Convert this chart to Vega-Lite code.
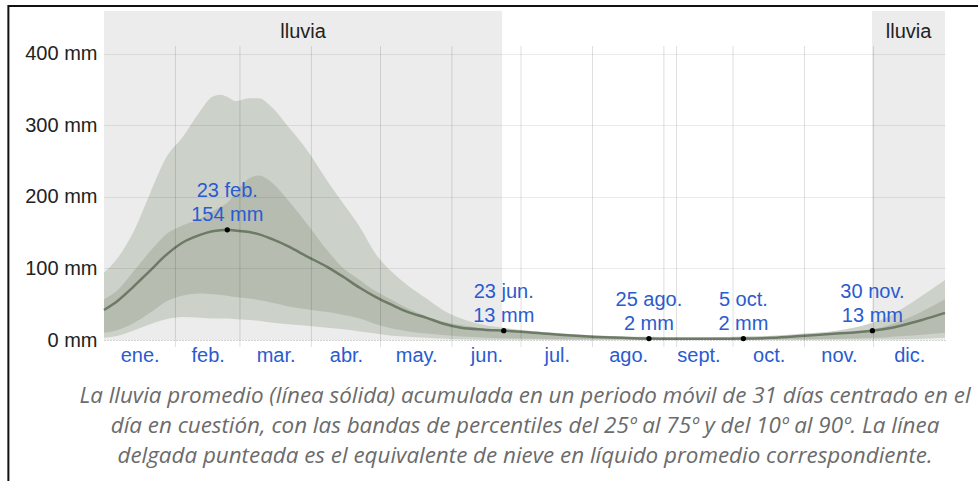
{
  "$schema": "https://vega.github.io/schema/vega-lite/v6.json",
  "width": 841,
  "height": 329,
  "autosize": "none",
  "padding": {"left": 104, "top": 11, "right": 33, "bottom": 141},
  "background": "white",
  "datasets": {
    "rain": [
      {"d": 0, "p10": 3, "p25": 10, "mean": 42, "p75": 57, "p90": 94},
      {"d": 6, "p10": 6, "p25": 14, "mean": 55, "p75": 70, "p90": 115},
      {"d": 12.6, "p10": 13, "p25": 23, "mean": 74, "p75": 95, "p90": 150},
      {"d": 20, "p10": 22, "p25": 38, "mean": 97, "p75": 124, "p90": 205},
      {"d": 27, "p10": 29, "p25": 54, "mean": 119, "p75": 148, "p90": 255},
      {"d": 34, "p10": 32, "p25": 62, "mean": 136, "p75": 160, "p90": 283},
      {"d": 41.7, "p10": 31, "p25": 65, "mean": 147, "p75": 170, "p90": 320},
      {"d": 47, "p10": 30, "p25": 64, "mean": 152, "p75": 180, "p90": 340},
      {"d": 50.5, "p10": 30, "p25": 63, "mean": 153.5, "p75": 186, "p90": 343},
      {"d": 53.5, "p10": 30, "p25": 62, "mean": 154, "p75": 192, "p90": 340},
      {"d": 57, "p10": 29, "p25": 60, "mean": 153, "p75": 205, "p90": 334},
      {"d": 63, "p10": 28, "p25": 58, "mean": 151, "p75": 226, "p90": 338},
      {"d": 67, "p10": 27, "p25": 56, "mean": 148, "p75": 230, "p90": 338},
      {"d": 73, "p10": 24, "p25": 52, "mean": 141, "p75": 220, "p90": 325},
      {"d": 80, "p10": 22, "p25": 47, "mean": 131, "p75": 195, "p90": 298},
      {"d": 88, "p10": 20, "p25": 43, "mean": 117, "p75": 163, "p90": 266},
      {"d": 97, "p10": 17, "p25": 39, "mean": 102, "p75": 125, "p90": 222},
      {"d": 104, "p10": 15, "p25": 35, "mean": 88, "p75": 100, "p90": 190},
      {"d": 111, "p10": 12, "p25": 30, "mean": 73, "p75": 84, "p90": 158},
      {"d": 118, "p10": 9, "p25": 22, "mean": 60, "p75": 68, "p90": 120},
      {"d": 125, "p10": 6, "p25": 16, "mean": 49, "p75": 56, "p90": 95},
      {"d": 132, "p10": 4.5, "p25": 12, "mean": 39, "p75": 44, "p90": 76},
      {"d": 140, "p10": 3, "p25": 9, "mean": 31, "p75": 33, "p90": 58},
      {"d": 147, "p10": 2, "p25": 7, "mean": 23, "p75": 26, "p90": 42},
      {"d": 155, "p10": 1, "p25": 5, "mean": 17, "p75": 21, "p90": 30},
      {"d": 165, "p10": 0.5, "p25": 3.5, "mean": 14.5, "p75": 16, "p90": 21},
      {"d": 173.5, "p10": 0.3, "p25": 2.5, "mean": 13, "p75": 14, "p90": 17},
      {"d": 181, "p10": 0.2, "p25": 2, "mean": 11.5, "p75": 11, "p90": 14},
      {"d": 195, "p10": 0, "p25": 1.5, "mean": 8, "p75": 7, "p90": 10},
      {"d": 210, "p10": 0, "p25": 1, "mean": 5, "p75": 4.5, "p90": 7},
      {"d": 225, "p10": 0, "p25": 0.7, "mean": 3, "p75": 3, "p90": 5},
      {"d": 236.5, "p10": 0, "p25": 0.5, "mean": 2, "p75": 2.5, "p90": 4.5},
      {"d": 250, "p10": 0, "p25": 0.5, "mean": 1.8, "p75": 2.2, "p90": 4},
      {"d": 262, "p10": 0, "p25": 0.5, "mean": 1.8, "p75": 2.2, "p90": 4},
      {"d": 277.5, "p10": 0, "p25": 0.5, "mean": 2, "p75": 2.8, "p90": 5},
      {"d": 290, "p10": 0, "p25": 0.7, "mean": 3, "p75": 4, "p90": 6},
      {"d": 304, "p10": 0, "p25": 1, "mean": 6, "p75": 6.5, "p90": 9},
      {"d": 318, "p10": 0.2, "p25": 1.5, "mean": 9, "p75": 9.5, "p90": 13},
      {"d": 333.5, "p10": 0.5, "p25": 3, "mean": 13, "p75": 15, "p90": 24},
      {"d": 340, "p10": 0.8, "p25": 4, "mean": 16, "p75": 20, "p90": 32},
      {"d": 347, "p10": 1.2, "p25": 5.5, "mean": 21, "p75": 28, "p90": 45},
      {"d": 355, "p10": 1.8, "p25": 7.5, "mean": 28, "p75": 40, "p90": 62},
      {"d": 365, "p10": 3, "p25": 10, "mean": 38, "p75": 57, "p90": 84}
    ],
    "seasons": [
      {"start": 0, "end": 172.8, "mid": 86.4, "name": "lluvia"},
      {"start": 333.3, "end": 365, "mid": 349.2, "name": "lluvia"}
    ],
    "grid": [
      {"d": 31}, {"d": 59}, {"d": 90}, {"d": 120}, {"d": 151}, {"d": 181},
      {"d": 212}, {"d": 243}, {"d": 248.5}, {"d": 273}, {"d": 304}, {"d": 334}
    ],
    "notes": [
      {"d": 53.5, "v": 154, "label": "23 feb.\n154 mm"},
      {"d": 173.5, "v": 13, "label": "23 jun.\n13 mm"},
      {"d": 236.5, "v": 2, "label": "25 ago.\n2 mm"},
      {"d": 277.5, "v": 2, "label": "5 oct.\n2 mm"},
      {"d": 333.5, "v": 13, "label": "30 nov.\n13 mm"}
    ],
    "frame": [
      {"x0": -41.5, "x1": 430, "y0": 467, "y1": -300}
    ]
  },
  "layer": [
    {
      "data": {"name": "seasons"},
      "mark": {"type": "rect", "fill": "#ececec"},
      "encoding": {
        "x": {
          "field": "start", "type": "quantitative",
          "scale": {"domain": [0, 365], "nice": false, "zero": false},
          "axis": {
            "title": [
              "La lluvia promedio (línea sólida) acumulada en un periodo móvil de 31 días centrado en el",
              "día en cuestión, con las bandas de percentiles del 25º al 75º y del 10º al 90º. La línea",
              "delgada punteada es el equivalente de nieve en líquido promedio correspondiente."
            ],
            "titleFont": "Open Sans",
            "titleFontStyle": "italic",
            "titleFontWeight": "normal",
            "titleFontSize": 22.4,
            "titleLineHeight": 30,
            "titleColor": "#6b6b6b",
            "titlePadding": 19,
            "titleAnchor": "middle",
            "values": [15.5, 45, 74.5, 105, 135.5, 166, 196.5, 227.5, 258, 288.5, 319, 349.5],
            "labelExpr": "['ene.','feb.','mar.','abr.','may.','jun.','jul.','ago.','sept.','oct.','nov.','dic.'][indexof([15.5,45,74.5,105,135.5,166,196.5,227.5,258,288.5,319,349.5], datum.value)]",
            "labelFont": "Liberation Sans",
            "labelFontSize": 20,
            "labelColor": "#2a5bd0",
            "labelPadding": 5,
            "labelFlush": false,
            "labelOverlap": false,
            "ticks": false,
            "domain": false,
            "grid": false
          }
        },
        "x2": {"field": "end"},
        "y": {
          "datum": 0, "type": "quantitative",
          "scale": {"domain": [0, 460], "nice": false, "zero": true},
          "axis": {
            "title": null,
            "values": [0, 100, 200, 300, 400],
            "labelExpr": "datum.value + ' mm'",
            "labelFont": "Liberation Sans",
            "labelFontSize": 20,
            "labelColor": "#222222",
            "labelPadding": 7,
            "ticks": false,
            "domain": false,
            "grid": true,
            "gridColor": "#000000",
            "gridOpacity": {"condition": {"test": "datum.value === 0", "value": 0.35}, "value": 0.08},
            "gridDash": {"condition": {"test": "datum.value === 0", "value": [1, 2]}, "value": []},
            "zindex": 1
          }
        },
        "y2": {"datum": 460}
      }
    },
    {
      "data": {"name": "seasons"},
      "mark": {"type": "text", "font": "Liberation Sans", "fontSize": 20, "color": "#222222", "baseline": "alphabetic", "align": "center"},
      "encoding": {
        "x": {"field": "mid", "type": "quantitative"},
        "y": {"datum": 422, "type": "quantitative"},
        "text": {"field": "name"}
      }
    },
    {
      "data": {"name": "rain"},
      "mark": {"type": "area", "color": "#ccd1c9", "interpolate": "monotone"},
      "encoding": {
        "x": {"field": "d", "type": "quantitative"},
        "y": {"field": "p10", "type": "quantitative"},
        "y2": {"field": "p90"}
      }
    },
    {
      "data": {"name": "rain"},
      "mark": {"type": "area", "color": "#b6bdb0", "interpolate": "monotone"},
      "encoding": {
        "x": {"field": "d", "type": "quantitative"},
        "y": {"field": "p25", "type": "quantitative"},
        "y2": {"field": "p75"}
      }
    },
    {
      "data": {"name": "rain"},
      "mark": {"type": "line", "color": "#6c7a66", "strokeWidth": 2.5, "interpolate": "monotone"},
      "encoding": {
        "x": {"field": "d", "type": "quantitative"},
        "y": {"field": "mean", "type": "quantitative"}
      }
    },
    {
      "data": {"name": "grid"},
      "mark": {"type": "rule", "color": "#000000", "strokeOpacity": 0.13, "strokeWidth": 1},
      "encoding": {
        "x": {"field": "d", "type": "quantitative"},
        "y": {"datum": 411, "type": "quantitative"},
        "y2": {"datum": -10}
      }
    },
    {
      "data": {"name": "notes"},
      "mark": {"type": "point", "filled": true, "color": "#000000", "size": 28, "opacity": 1},
      "encoding": {
        "x": {"field": "d", "type": "quantitative"},
        "y": {"field": "v", "type": "quantitative"}
      }
    },
    {
      "data": {"name": "notes"},
      "mark": {"type": "text", "font": "Liberation Sans", "fontSize": 20, "color": "#2a5bd0", "align": "center", "baseline": "alphabetic", "lineBreak": "\n", "lineHeight": 24.5, "dy": -33},
      "encoding": {
        "x": {"field": "d", "type": "quantitative"},
        "y": {"field": "v", "type": "quantitative"},
        "text": {"field": "label"}
      }
    },
    {
      "data": {"name": "frame"},
      "mark": {"type": "rect", "fillOpacity": 0, "stroke": "#111111", "strokeWidth": 2},
      "encoding": {
        "x": {"field": "x0", "type": "quantitative"},
        "x2": {"field": "x1"},
        "y": {"field": "y0", "type": "quantitative"},
        "y2": {"field": "y1"}
      }
    }
  ],
  "config": {
    "view": {"stroke": null}
  }
}
